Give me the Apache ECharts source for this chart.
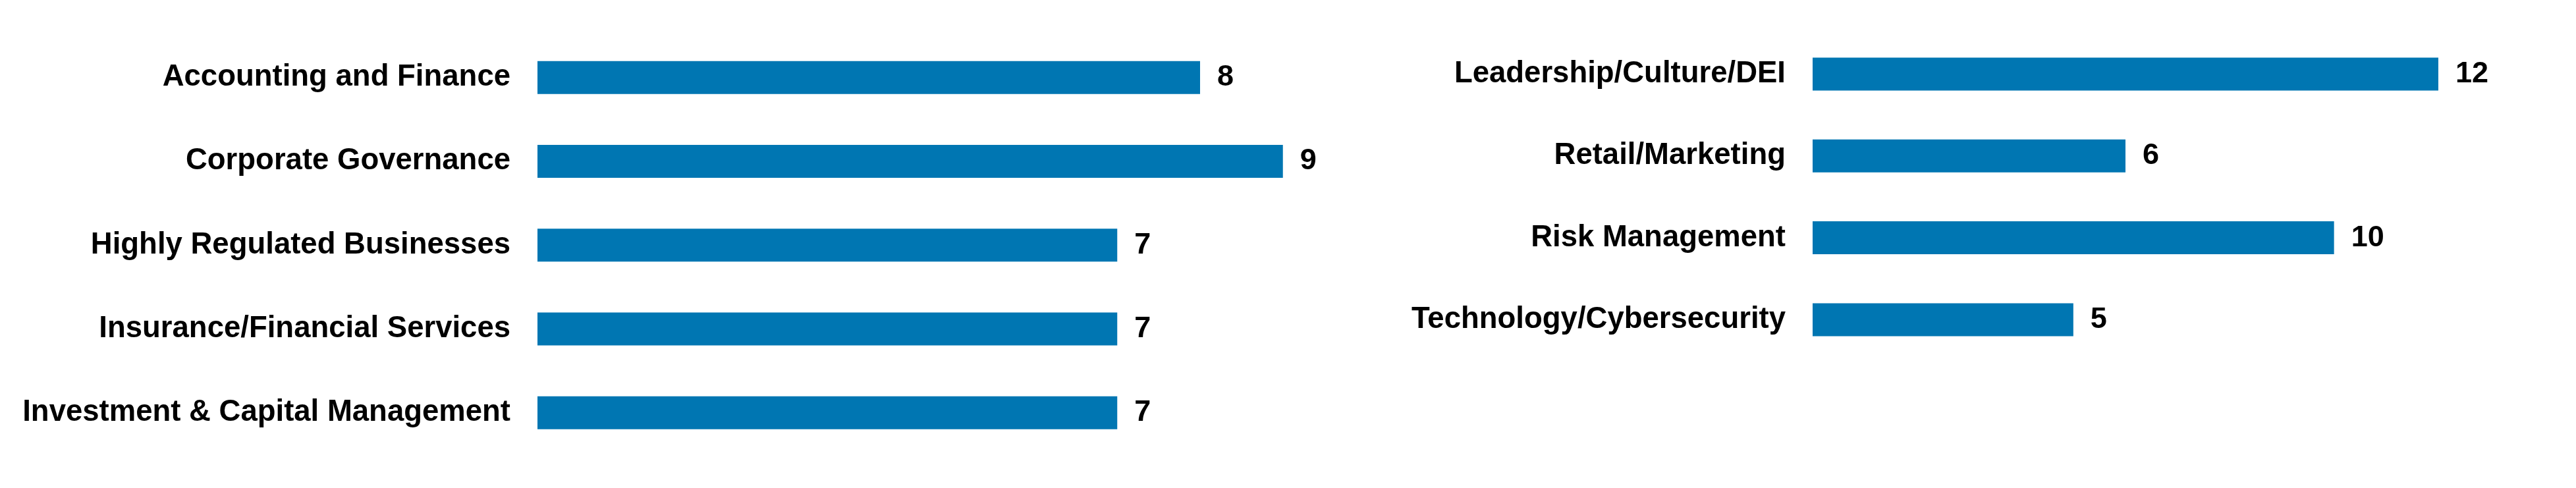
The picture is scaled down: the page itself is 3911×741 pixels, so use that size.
<!DOCTYPE html>
<html>
<head>
<meta charset="utf-8">
<script src="https://cdn.jsdelivr.net/npm/echarts@6/dist/echarts.min.js"></script>
<style>
html,body{margin:0;padding:0;background:#fff;}
#c{width:3911px;height:741px;}
</style>
</head>
<body>
<div id="c"></div>
<script>
const leftCategories = ['Accounting and Finance','Corporate Governance','Highly Regulated Businesses','Insurance/Financial Services','Investment & Capital Management'];
const leftValues = [8, 9, 7, 7, 7];
const rightCategories = ['Leadership/Culture/DEI','Retail/Marketing','Risk Management','Technology/Cybersecurity'];
const rightValues = [12, 6, 10, 5];

const BAR_COLOR = '#0076B2';
const FONT = '"Liberation Sans", Arial, sans-serif';

const chart = echarts.init(document.getElementById('c'), null, {renderer:'canvas'});

function yAxisFor(cats, gridIndex){
  return {
    type:'category', data:cats, inverse:true, gridIndex:gridIndex,
    axisLine:{show:false}, axisTick:{show:false}, splitLine:{show:false},
    axisLabel:{margin:41, color:'#000', fontFamily:FONT, fontWeight:'bold', fontSize:45.5, padding:[12,0,0,0]}
  };
}
function xAxisFor(max, gridIndex){
  return {type:'value', min:0, max:max, gridIndex:gridIndex, show:false, splitLine:{show:false}};
}
function seriesFor(vals, idx){
  return {
    type:'bar', data:vals, xAxisIndex:idx, yAxisIndex:idx, barWidth:50,
    itemStyle:{color:BAR_COLOR},
    label:{show:true, position:'right', distance:26, color:'#000', fontFamily:FONT, fontWeight:'bold', fontSize:45, padding:[12,0,0,0]},
    animation:false
  };
}

chart.setOption({
  animation:false,
  backgroundColor:'#fff',
  grid:[
    {left:816, top:54, width:1257.5, height:636.5, containLabel:false},
    {left:2752, top:50.3, width:1108.3, height:497.3, containLabel:false}
  ],
  xAxis:[xAxisFor(10,0), xAxisFor(14,1)],
  yAxis:[yAxisFor(leftCategories,0), yAxisFor(rightCategories,1)],
  series:[seriesFor(leftValues,0), seriesFor(rightValues,1)]
});
</script>
</body>
</html>
